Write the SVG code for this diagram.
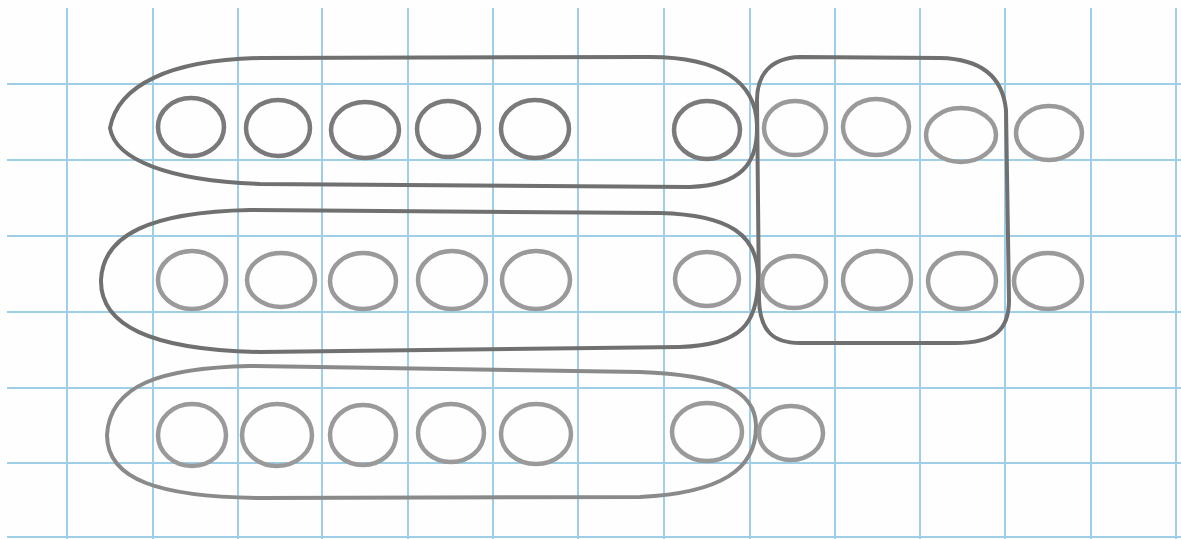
<svg xmlns="http://www.w3.org/2000/svg" width="1181" height="539" viewBox="0 0 1181 539">
<style>
.grid line{stroke:#9fcfe6;stroke-width:2}
.encl{fill:none;stroke:#707070;stroke-width:4;stroke-linejoin:round}
.encl.light{stroke:#8a8a8a}
.c1 ellipse{fill:none;stroke:#7a7a7a;stroke-width:4.5}
.c2 ellipse{fill:none;stroke:#9a9a9a;stroke-width:4.5}
</style>
<rect width="1181" height="539" fill="#fefefe"/>
<g class="grid">
<line x1="67" y1="8" x2="67" y2="539"/>
<line x1="153" y1="8" x2="153" y2="539"/>
<line x1="238" y1="8" x2="238" y2="539"/>
<line x1="322" y1="8" x2="322" y2="539"/>
<line x1="408" y1="8" x2="408" y2="539"/>
<line x1="493" y1="8" x2="493" y2="539"/>
<line x1="578" y1="8" x2="578" y2="539"/>
<line x1="664" y1="8" x2="664" y2="539"/>
<line x1="750" y1="8" x2="750" y2="539"/>
<line x1="835" y1="8" x2="835" y2="539"/>
<line x1="920" y1="8" x2="920" y2="539"/>
<line x1="1005" y1="8" x2="1005" y2="539"/>
<line x1="1091" y1="8" x2="1091" y2="539"/>
<line x1="1176" y1="8" x2="1176" y2="539"/>
<line x1="7" y1="84" x2="1181" y2="84"/>
<line x1="7" y1="160" x2="1181" y2="160"/>
<line x1="7" y1="236" x2="1181" y2="236"/>
<line x1="7" y1="312" x2="1181" y2="312"/>
<line x1="7" y1="388" x2="1181" y2="388"/>
<line x1="7" y1="463" x2="1181" y2="463"/>
<line x1="7" y1="537" x2="1181" y2="537"/>
</g>
<g id="group-row1"><path class="encl" d="M110,128 C118,85 170,60 260,58 L650,57 C720,57 756,82 757,125 C758,165 740,185 690,187 L260,184 C170,181 115,160 110,128 Z"/></g>
<g id="group-row2"><path class="encl" d="M101,280 C103,235 150,212 250,210 L660,213 C730,215 757,235 758,275 C759,325 740,345 680,347 L260,352 C150,350 100,325 101,280 Z"/></g>
<g id="group-row3"><path class="encl light" d="M107,435 C110,385 160,368 250,366 L640,372 C720,375 755,390 756,425 C757,470 720,493 640,497 L260,498 C160,497 107,480 107,435 Z"/></g>
<g id="group-box"><path class="encl" d="M800,57 L940,58 C985,59 1003,80 1006,110 L1009,300 C1009,330 995,343 955,343 L800,343 C772,343 760,330 759,300 L757,100 C757,75 770,58 800,57 Z"/></g>
<g class="c1">
<g id="r1c1"><ellipse cx="191" cy="127" rx="33" ry="29"/></g>
<g id="r1c2"><ellipse cx="278" cy="128" rx="32" ry="28"/></g>
<g id="r1c3"><ellipse cx="365" cy="130" rx="34" ry="28"/></g>
<g id="r1c4"><ellipse cx="448" cy="129" rx="31" ry="28"/></g>
<g id="r1c5"><ellipse cx="535" cy="129" rx="34" ry="29"/></g>
<g id="r1c6"><ellipse cx="707" cy="130" rx="33" ry="29"/></g>
</g>
<g class="c2">
<g id="r1c7"><ellipse cx="795" cy="128" rx="31" ry="27"/></g>
<g id="r1c8"><ellipse cx="876" cy="127" rx="33" ry="28"/></g>
<g id="r1c9"><ellipse cx="961" cy="135" rx="35" ry="27"/></g>
<g id="r1c10"><ellipse cx="1049" cy="133" rx="33" ry="27"/></g>
<g id="r2c1"><ellipse cx="192" cy="280" rx="34" ry="29"/></g>
<g id="r2c2"><ellipse cx="281" cy="280" rx="34" ry="27"/></g>
<g id="r2c3"><ellipse cx="363" cy="281" rx="33" ry="28"/></g>
<g id="r2c4"><ellipse cx="452" cy="280" rx="34" ry="29"/></g>
<g id="r2c5"><ellipse cx="536" cy="280" rx="34" ry="29"/></g>
<g id="r2c6"><ellipse cx="707" cy="279" rx="32" ry="27"/></g>
<g id="r2c7"><ellipse cx="794" cy="282" rx="32" ry="26"/></g>
<g id="r2c8"><ellipse cx="877" cy="280" rx="34" ry="29"/></g>
<g id="r2c9"><ellipse cx="962" cy="281" rx="34" ry="28"/></g>
<g id="r2c10"><ellipse cx="1048" cy="281" rx="34" ry="28"/></g>
<g id="r3c1"><ellipse cx="192" cy="435" rx="34" ry="31"/></g>
<g id="r3c2"><ellipse cx="277" cy="435" rx="35" ry="31"/></g>
<g id="r3c3"><ellipse cx="363" cy="435" rx="33" ry="30"/></g>
<g id="r3c4"><ellipse cx="451" cy="433" rx="33" ry="29"/></g>
<g id="r3c5"><ellipse cx="536" cy="434" rx="35" ry="30"/></g>
<g id="r3c6"><ellipse cx="707" cy="432" rx="35" ry="29"/></g>
<g id="r3c7"><ellipse cx="791" cy="433" rx="32" ry="27"/></g>
</g>
</svg>
